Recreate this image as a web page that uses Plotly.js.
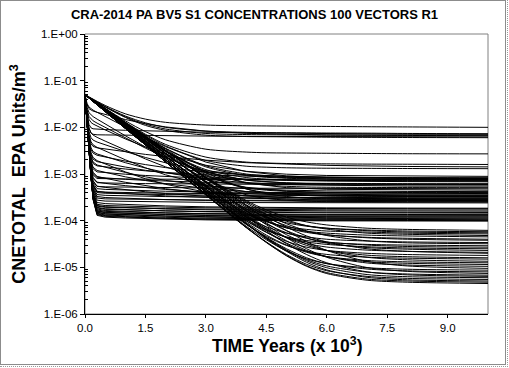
<!DOCTYPE html>
<html><head><meta charset="utf-8">
<script src="https://cdn.plot.ly/plotly-3.0.1.min.js"></script>
<style>html,body{margin:0;padding:0;background:#fff;overflow:hidden}</style>
</head><body>
<div id="chart" style="position:absolute;left:0;top:0;width:509px;height:368px"></div>
<div style="position:absolute;left:0;top:0;width:504px;height:363px;border:1px solid #8c8c8c;pointer-events:none"></div>
<div style="position:absolute;left:0;top:0;width:507px;height:366px;border-right:1px dotted #9a9a9a;border-bottom:1px dotted #9a9a9a;pointer-events:none"></div>
<script>
// time in thousands of years
const yearsFast = [0, 0.05, 0.1, 0.15, 0.2, 0.3, 0.5, 1, 1.5, 2, 3, 4, 5, 6, 8, 10];
const yearsSlow = [0, 0.5, 1, 1.5, 2, 3, 4, 4.5, 5, 5.5, 6, 7, 8, 10];

// vectors with a fast initial drop to a plateau (sampled at yearsFast)
const fast01 = [5.0e-2, 3.25e-2, 2.72e-2, 2.49e-2, 2.34e-2, 2.1e-2, 1.7e-2, 1.01e-2, 6.1e-3, 3.85e-3, 1.8e-3, 1.13e-3, 9.1e-4, 8.4e-4, 8.04e-4, 8.0e-4];
const fast02 = [5.0e-2, 3.03e-2, 2.5e-2, 2.32e-2, 2.23e-2, 2.1e-2, 1.88e-2, 1.47e-2, 1.2e-2, 1.02e-2, 8.3e-3, 7.45e-3, 7.1e-3, 6.9e-3, 6.82e-3, 6.8e-3];
const fast03 = [5.0e-2, 2.71e-2, 2.06e-2, 1.83e-2, 1.7e-2, 1.5e-2, 1.18e-2, 6.6e-3, 3.8e-3, 2.3e-3, 1.09e-3, 7.4e-4, 6.4e-4, 6.1e-4, 6.0e-4, 6.0e-4];
const fast04 = [5.0e-2, 2.4e-2, 1.71e-2, 1.49e-2, 1.38e-2, 1.23e-2, 9.95e-3, 5.9e-3, 3.58e-3, 2.24e-3, 1.04e-3, 6.4e-4, 5.1e-4, 4.7e-4, 4.52e-4, 4.5e-4];
const fast05 = [5.0e-2, 2.2e-2, 1.48e-2, 1.27e-2, 1.18e-2, 1.07e-2, 8.8e-3, 5.65e-3, 3.78e-3, 2.64e-3, 1.54e-3, 1.14e-3, 9.9e-4, 9.3e-4, 9.0e-4, 8.9e-4];
const fast06 = [5.0e-2, 1.9e-2, 1.15e-2, 9.75e-3, 9.3e-3, 9.1e-3, 8.95e-3, 8.65e-3, 8.4e-3, 8.2e-3, 7.85e-3, 7.6e-3, 7.45e-3, 7.3e-3, 7.15e-3, 7.1e-3];
const fast07 = [5.0e-2, 1.78e-2, 9.76e-3, 7.6e-3, 6.84e-3, 6.1e-3, 5.07e-3, 3.22e-3, 2.1e-3, 1.42e-3, 7.6e-4, 5.2e-4, 4.3e-4, 4.0e-4, 3.83e-4, 3.8e-4];
const fast08 = [5.0e-2, 1.73e-2, 9.4e-3, 7.55e-3, 7.1e-3, 6.92e-3, 6.88e-3, 6.77e-3, 6.69e-3, 6.61e-3, 6.49e-3, 6.41e-3, 6.35e-3, 6.31e-3, 6.26e-3, 6.23e-3];
const fast09 = [5.0e-2, 1.63e-2, 8.1e-3, 6.0e-3, 5.34e-3, 4.84e-3, 4.21e-3, 3.03e-3, 2.26e-3, 1.74e-3, 1.18e-3, 9.4e-4, 8.3e-4, 7.85e-4, 7.57e-4, 7.5e-4];
const fast10 = [5.0e-2, 1.55e-2, 7.04e-3, 4.89e-3, 4.22e-3, 3.72e-3, 3.11e-3, 2.02e-3, 1.36e-3, 9.6e-4, 5.7e-4, 4.2e-4, 3.7e-4, 3.5e-4, 3.4e-4, 3.4e-4];
const fast11 = [5.0e-2, 1.5e-2, 6.5e-3, 4.44e-3, 3.9e-3, 3.64e-3, 3.43e-3, 2.98e-3, 2.63e-3, 2.36e-3, 1.98e-3, 1.75e-3, 1.61e-3, 1.53e-3, 1.45e-3, 1.42e-3];
const fast12 = [5.0e-2, 1.44e-2, 5.74e-3, 3.62e-3, 3.03e-3, 2.69e-3, 2.36e-3, 1.75e-3, 1.34e-3, 1.07e-3, 7.75e-4, 6.5e-4, 5.9e-4, 5.7e-4, 5.5e-4, 5.5e-4];
const fast13 = [5.0e-2, 1.41e-2, 5.45e-3, 3.35e-3, 2.8e-3, 2.52e-3, 2.31e-3, 1.89e-3, 1.59e-3, 1.37e-3, 1.1e-3, 9.65e-4, 8.95e-4, 8.6e-4, 8.3e-4, 8.2e-4];
const fast14 = [5.0e-2, 1.38e-2, 5.0e-3, 2.85e-3, 2.26e-3, 1.93e-3, 1.64e-3, 1.11e-3, 7.9e-4, 6.0e-4, 4.1e-4, 3.4e-4, 3.15e-4, 3.05e-4, 3.0e-4, 3.0e-4];
const fast15 = [5.0e-2, 1.36e-2, 4.74e-3, 2.63e-3, 2.08e-3, 1.84e-3, 1.7e-3, 1.41e-3, 1.2e-3, 1.06e-3, 8.7e-4, 7.8e-4, 7.3e-4, 7.06e-4, 6.87e-4, 6.8e-4];
const fast16 = [5.0e-2, 1.34e-2, 4.48e-3, 2.35e-3, 1.81e-3, 1.56e-3, 1.39e-3, 1.08e-3, 8.7e-4, 7.3e-4, 5.6e-4, 4.86e-4, 4.5e-4, 4.34e-4, 4.23e-4, 4.2e-4];
const fast17 = [5.0e-2, 1.32e-2, 4.32e-3, 2.21e-3, 1.68e-3, 1.49e-3, 1.42e-3, 1.28e-3, 1.17e-3, 1.08e-3, 9.6e-4, 8.9e-4, 8.5e-4, 8.2e-4, 7.95e-4, 7.85e-4];
const fast18 = [5.0e-2, 1.3e-2, 4.07e-3, 1.94e-3, 1.4e-3, 1.19e-3, 1.08e-3, 8.7e-4, 7.25e-4, 6.2e-4, 4.9e-4, 4.2e-4, 3.86e-4, 3.69e-4, 3.55e-4, 3.5e-4];
const fast19 = [5.0e-2, 1.29e-2, 3.94e-3, 1.82e-3, 1.29e-3, 1.11e-3, 1.07e-3, 9.9e-4, 9.3e-4, 8.8e-4, 8.1e-4, 7.65e-4, 7.4e-4, 7.24e-4, 7.09e-4, 7.03e-4];
const fast20 = [5.0e-2, 1.28e-2, 3.76e-3, 1.63e-3, 1.09e-3, 8.9e-4, 8.1e-4, 6.65e-4, 5.6e-4, 4.83e-4, 3.89e-4, 3.41e-4, 3.16e-4, 3.03e-4, 2.94e-4, 2.9e-4];
const fast21 = [5.0e-2, 1.27e-2, 3.67e-3, 1.54e-3, 1.02e-3, 8.5e-4, 8.18e-4, 7.7e-4, 7.32e-4, 7.03e-4, 6.62e-4, 6.38e-4, 6.23e-4, 6.14e-4, 6.05e-4, 6.02e-4];
const fast22 = [5.0e-2, 1.26e-2, 3.6e-3, 1.48e-3, 9.6e-4, 8.0e-4, 7.91e-4, 7.83e-4, 7.76e-4, 7.71e-4, 7.62e-4, 7.56e-4, 7.51e-4, 7.48e-4, 7.44e-4, 7.42e-4];
const fast23 = [5.0e-2, 1.25e-2, 3.5e-3, 1.37e-3, 8.4e-4, 6.7e-4, 6.3e-4, 5.63e-4, 5.09e-4, 4.67e-4, 4.09e-4, 3.74e-4, 3.53e-4, 3.4e-4, 3.27e-4, 3.23e-4];
const fast24 = [5.0e-2, 1.25e-2, 3.45e-3, 1.33e-3, 8.1e-4, 6.5e-4, 6.39e-4, 6.3e-4, 6.22e-4, 6.16e-4, 6.06e-4, 5.98e-4, 5.93e-4, 5.89e-4, 5.85e-4, 5.82e-4];
const fast25 = [5.0e-2, 1.24e-2, 3.4e-3, 1.25e-3, 7.2e-4, 5.5e-4, 5.17e-4, 4.6e-4, 4.16e-4, 3.81e-4, 3.34e-4, 3.05e-4, 2.87e-4, 2.76e-4, 2.66e-4, 2.62e-4];
const fast26 = [5.0e-2, 1.24e-2, 3.34e-3, 1.22e-3, 7.0e-4, 5.4e-4, 5.31e-4, 5.23e-4, 5.16e-4, 5.11e-4, 5.02e-4, 4.96e-4, 4.91e-4, 4.88e-4, 4.84e-4, 4.82e-4];
const fast27 = [5.0e-2, 1.23e-2, 3.3e-3, 1.17e-3, 6.45e-4, 4.85e-4, 4.68e-4, 4.51e-4, 4.37e-4, 4.27e-4, 4.12e-4, 4.04e-4, 3.98e-4, 3.95e-4, 3.92e-4, 3.91e-4];
const fast28 = [5.0e-2, 1.23e-2, 3.25e-3, 1.11e-3, 5.9e-4, 4.27e-4, 4.05e-4, 3.77e-4, 3.56e-4, 3.39e-4, 3.16e-4, 3.02e-4, 2.93e-4, 2.88e-4, 2.83e-4, 2.81e-4];
const fast29 = [5.0e-2, 1.23e-2, 3.2e-3, 1.1e-3, 5.8e-4, 4.2e-4, 4.09e-4, 4.0e-4, 3.94e-4, 3.88e-4, 3.81e-4, 3.77e-4, 3.74e-4, 3.72e-4, 3.71e-4, 3.7e-4];
const fast30 = [5.0e-2, 1.23e-2, 3.2e-3, 1.08e-3, 5.6e-4, 4.0e-4, 3.87e-4, 3.76e-4, 3.68e-4, 3.62e-4, 3.53e-4, 3.48e-4, 3.45e-4, 3.43e-4, 3.41e-4, 3.4e-4];
const fast31 = [5.0e-2, 1.23e-2, 3.15e-3, 1.04e-3, 5.2e-4, 3.62e-4, 3.49e-4, 3.4e-4, 3.34e-4, 3.28e-4, 3.21e-4, 3.17e-4, 3.14e-4, 3.12e-4, 3.11e-4, 3.1e-4];
const fast32 = [5.0e-2, 1.22e-2, 3.12e-3, 1.0e-3, 4.9e-4, 3.3e-4, 3.13e-4, 3.0e-4, 2.9e-4, 2.83e-4, 2.72e-4, 2.65e-4, 2.61e-4, 2.59e-4, 2.56e-4, 2.55e-4];
const fast33 = [5.0e-2, 1.22e-2, 3.1e-3, 9.8e-4, 4.6e-4, 3.05e-4, 2.93e-4, 2.88e-4, 2.84e-4, 2.81e-4, 2.77e-4, 2.74e-4, 2.72e-4, 2.71e-4, 2.7e-4, 2.7e-4];
const fast34 = [5.0e-2, 1.22e-2, 3.1e-3, 9.5e-4, 4.3e-4, 2.75e-4, 2.63e-4, 2.58e-4, 2.54e-4, 2.51e-4, 2.47e-4, 2.44e-4, 2.42e-4, 2.41e-4, 2.4e-4, 2.4e-4];
const fast35 = [5.0e-2, 1.22e-2, 3.05e-3, 9.2e-4, 4.0e-4, 2.45e-4, 2.32e-4, 2.21e-4, 2.13e-4, 2.07e-4, 1.98e-4, 1.93e-4, 1.9e-4, 1.88e-4, 1.86e-4, 1.85e-4];
const fast36 = [5.0e-2, 1.22e-2, 3.03e-3, 9.0e-4, 3.8e-4, 2.24e-4, 2.11e-4, 2.04e-4, 1.99e-4, 1.95e-4, 1.89e-4, 1.85e-4, 1.83e-4, 1.82e-4, 1.81e-4, 1.8e-4];
const fast37 = [5.0e-2, 1.22e-2, 3.02e-3, 8.9e-4, 3.7e-4, 2.12e-4, 1.99e-4, 1.9e-4, 1.84e-4, 1.78e-4, 1.71e-4, 1.67e-4, 1.64e-4, 1.62e-4, 1.61e-4, 1.6e-4];
const fast38 = [5.0e-2, 1.22e-2, 3.0e-3, 8.8e-4, 3.6e-4, 2.05e-4, 1.93e-4, 1.88e-4, 1.84e-4, 1.81e-4, 1.77e-4, 1.74e-4, 1.72e-4, 1.71e-4, 1.7e-4, 1.7e-4];
const fast39 = [5.0e-2, 1.22e-2, 3.0e-3, 8.7e-4, 3.5e-4, 1.93e-4, 1.8e-4, 1.72e-4, 1.66e-4, 1.62e-4, 1.55e-4, 1.51e-4, 1.49e-4, 1.47e-4, 1.46e-4, 1.45e-4];
const fast40 = [5.0e-2, 1.22e-2, 3.0e-3, 8.6e-4, 3.4e-4, 1.87e-4, 1.75e-4, 1.69e-4, 1.65e-4, 1.62e-4, 1.57e-4, 1.54e-4, 1.53e-4, 1.52e-4, 1.51e-4, 1.5e-4];
const fast41 = [5.0e-2, 1.22e-2, 2.98e-3, 8.6e-4, 3.35e-4, 1.78e-4, 1.65e-4, 1.57e-4, 1.51e-4, 1.47e-4, 1.4e-4, 1.36e-4, 1.34e-4, 1.32e-4, 1.31e-4, 1.3e-4];
const fast42 = [5.0e-2, 1.22e-2, 2.98e-3, 8.5e-4, 3.25e-4, 1.7e-4, 1.58e-4, 1.53e-4, 1.49e-4, 1.46e-4, 1.42e-4, 1.39e-4, 1.37e-4, 1.36e-4, 1.355e-4, 1.35e-4];
const fast43 = [5.0e-2, 1.22e-2, 2.97e-3, 8.4e-4, 3.2e-4, 1.63e-4, 1.51e-4, 1.44e-4, 1.39e-4, 1.35e-4, 1.29e-4, 1.25e-4, 1.23e-4, 1.22e-4, 1.21e-4, 1.2e-4];
const fast44 = [5.0e-2, 1.22e-2, 2.97e-3, 8.4e-4, 3.15e-4, 1.6e-4, 1.48e-4, 1.43e-4, 1.39e-4, 1.36e-4, 1.32e-4, 1.29e-4, 1.27e-4, 1.26e-4, 1.255e-4, 1.25e-4];
const fast45 = [5.0e-2, 1.22e-2, 2.96e-3, 8.3e-4, 3.1e-4, 1.53e-4, 1.41e-4, 1.34e-4, 1.29e-4, 1.25e-4, 1.19e-4, 1.15e-4, 1.13e-4, 1.12e-4, 1.11e-4, 1.1e-4];
const fast46 = [5.0e-2, 1.22e-2, 2.96e-3, 8.3e-4, 3.05e-4, 1.5e-4, 1.38e-4, 1.33e-4, 1.29e-4, 1.26e-4, 1.22e-4, 1.19e-4, 1.17e-4, 1.16e-4, 1.155e-4, 1.15e-4];
const fast47 = [5.0e-2, 1.22e-2, 2.95e-3, 8.2e-4, 3.0e-4, 1.44e-4, 1.32e-4, 1.26e-4, 1.22e-4, 1.18e-4, 1.13e-4, 1.1e-4, 1.08e-4, 1.07e-4, 1.06e-4, 1.05e-4];
const fast48 = [5.0e-2, 1.22e-2, 2.95e-3, 8.2e-4, 2.95e-4, 1.4e-4, 1.28e-4, 1.22e-4, 1.17e-4, 1.13e-4, 1.08e-4, 1.05e-4, 1.03e-4, 1.02e-4, 1.01e-4, 1.0e-4];
const fast49 = [5.0e-2, 1.22e-2, 2.95e-3, 8.1e-4, 2.9e-4, 1.35e-4, 1.24e-4, 1.19e-4, 1.15e-4, 1.12e-4, 1.08e-4, 1.06e-4, 1.04e-4, 1.03e-4, 1.025e-4, 1.02e-4];
const fast50 = [5.0e-2, 1.22e-2, 2.94e-3, 8.1e-4, 2.85e-4, 1.3e-4, 1.19e-4, 1.14e-4, 1.11e-4, 1.08e-4, 1.04e-4, 1.02e-4, 1.0e-4, 9.9e-5, 9.85e-5, 9.8e-5];

// vectors with slow decay to a high floor (sampled at yearsSlow)
const high01 = [5.0e-2, 2.95e-2, 1.95e-2, 1.5e-2, 1.28e-2, 1.12e-2, 1.08e-2, 1.07e-2, 1.06e-2, 1.05e-2, 1.045e-2, 1.03e-2, 1.02e-2, 1.0e-2];
const high02 = [5.0e-2, 2.8e-2, 1.75e-2, 1.25e-2, 1.0e-2, 8.3e-3, 7.8e-3, 7.7e-3, 7.65e-3, 7.6e-3, 7.55e-3, 7.5e-3, 7.4e-3, 7.3e-3];
const high03 = [5.0e-2, 2.76e-2, 1.68e-2, 1.17e-2, 9.2e-3, 7.4e-3, 7.0e-3, 6.95e-3, 6.9e-3, 6.85e-3, 6.8e-3, 6.75e-3, 6.7e-3, 6.6e-3];
const high04 = [5.0e-2, 2.73e-2, 1.63e-2, 1.1e-2, 8.6e-3, 6.8e-3, 6.35e-3, 6.3e-3, 6.25e-3, 6.2e-3, 6.15e-3, 6.1e-3, 6.05e-3, 6.0e-3];
const high05 = [5.0e-2, 2.56e-2, 1.38e-2, 8.1e-3, 5.4e-3, 3.4e-3, 2.95e-3, 2.85e-3, 2.82e-3, 2.8e-3, 2.78e-3, 2.75e-3, 2.72e-3, 2.7e-3];
const high06 = [5.0e-2, 2.5e-2, 1.29e-2, 7.1e-3, 4.3e-3, 2.3e-3, 1.8e-3, 1.72e-3, 1.68e-3, 1.66e-3, 1.65e-3, 1.63e-3, 1.62e-3, 1.6e-3];
const high07 = [5.0e-2, 2.48e-2, 1.26e-2, 6.8e-3, 4.0e-3, 1.95e-3, 1.47e-3, 1.4e-3, 1.36e-3, 1.34e-3, 1.33e-3, 1.32e-3, 1.31e-3, 1.3e-3];
const high08 = [5.0e-2, 2.46e-2, 1.23e-2, 6.4e-3, 3.55e-3, 1.5e-3, 1.0e-3, 9.2e-4, 8.8e-4, 8.6e-4, 8.5e-4, 8.4e-4, 8.35e-4, 8.3e-4];
const high09 = [5.0e-2, 2.46e-2, 1.23e-2, 6.3e-3, 3.5e-3, 1.42e-3, 9.3e-4, 8.5e-4, 8.1e-4, 7.9e-4, 7.8e-4, 7.7e-4, 7.65e-4, 7.6e-4];
const high10 = [5.0e-2, 2.38e-2, 1.15e-2, 5.8e-3, 3.1e-3, 1.24e-3, 8.4e-4, 7.8e-4, 7.5e-4, 7.35e-4, 7.3e-4, 7.25e-4, 7.2e-4, 7.2e-4];
const high11 = [5.0e-2, 2.37e-2, 1.14e-2, 5.7e-3, 3.0e-3, 1.14e-3, 7.4e-4, 6.8e-4, 6.5e-4, 6.35e-4, 6.3e-4, 6.25e-4, 6.2e-4, 6.2e-4];
const high12 = [5.0e-2, 2.43e-2, 1.2e-2, 6.1e-3, 3.2e-3, 1.15e-3, 6.6e-4, 5.8e-4, 5.45e-4, 5.27e-4, 5.2e-4, 5.15e-4, 5.12e-4, 5.1e-4];
const high13 = [5.0e-2, 2.36e-2, 1.13e-2, 5.5e-3, 2.8e-3, 9.2e-4, 5.1e-4, 4.5e-4, 4.25e-4, 4.12e-4, 4.06e-4, 4.02e-4, 4.0e-4, 4.0e-4];
const high14 = [5.0e-2, 2.42e-2, 1.19e-2, 6.0e-3, 3.05e-3, 9.7e-4, 4.8e-4, 4.0e-4, 3.65e-4, 3.47e-4, 3.38e-4, 3.32e-4, 3.31e-4, 3.3e-4];
const high15 = [5.0e-2, 2.52e-2, 1.28e-2, 6.5e-3, 3.4e-3, 1.07e-3, 4.8e-4, 3.8e-4, 3.3e-4, 3.05e-4, 2.93e-4, 2.83e-4, 2.81e-4, 2.8e-4];
const high16 = [5.0e-2, 2.36e-2, 1.12e-2, 5.3e-3, 2.6e-3, 7.7e-4, 3.6e-4, 3.0e-4, 2.75e-4, 2.62e-4, 2.55e-4, 2.51e-4, 2.5e-4, 2.5e-4];

// vectors following the long diagonal decline (sampled at yearsSlow)
const diag01 = [5.0e-2, 2.51e-2, 1.26e-2, 6.3e-3, 3.16e-3, 8.6e-4, 2.7e-4, 1.7e-4, 1.19e-4, 9.4e-5, 8.1e-5, 6.9e-5, 6.5e-5, 6.2e-5];
const diag02 = [5.0e-2, 2.34e-2, 1.1e-2, 5.1e-3, 2.4e-3, 5.9e-4, 1.8e-4, 1.2e-4, 9.0e-5, 7.6e-5, 6.9e-5, 6.3e-5, 6.0e-5, 5.8e-5];
const diag03 = [5.0e-2, 2.42e-2, 1.17e-2, 5.7e-3, 2.75e-3, 7.0e-4, 2.1e-4, 1.36e-4, 9.7e-5, 7.8e-5, 6.9e-5, 6.1e-5, 5.7e-5, 5.5e-5];
const diag04 = [5.0e-2, 2.24e-2, 1.0e-2, 4.5e-3, 2.0e-3, 4.6e-4, 1.39e-4, 9.5e-5, 7.4e-5, 6.5e-5, 6.0e-5, 5.7e-5, 5.4e-5, 5.2e-5];
const diag05 = [5.0e-2, 2.51e-2, 1.26e-2, 6.3e-3, 3.16e-3, 8.5e-4, 2.55e-4, 1.55e-4, 1.04e-4, 7.8e-5, 6.6e-5, 5.4e-5, 5.1e-5, 4.8e-5];
const diag06 = [5.0e-2, 2.29e-2, 1.05e-2, 4.8e-3, 2.19e-3, 5.1e-4, 1.47e-4, 9.6e-5, 7.0e-5, 5.9e-5, 5.4e-5, 4.9e-5, 4.7e-5, 4.5e-5];
const diag07 = [5.0e-2, 2.34e-2, 1.1e-2, 5.1e-3, 2.4e-3, 5.7e-4, 1.6e-4, 1.0e-4, 7.0e-5, 5.6e-5, 4.95e-5, 4.4e-5, 4.2e-5, 4.0e-5];
const diag08 = [5.0e-2, 2.42e-2, 1.17e-2, 5.7e-3, 2.75e-3, 6.8e-4, 1.95e-4, 1.17e-4, 7.8e-5, 5.9e-5, 5.0e-5, 4.3e-5, 4.0e-5, 3.8e-5];
const diag09 = [5.0e-2, 2.24e-2, 1.0e-2, 4.5e-3, 2.0e-3, 4.4e-4, 1.18e-4, 7.4e-5, 5.4e-5, 4.5e-5, 4.0e-5, 3.66e-5, 3.5e-5, 3.4e-5];
const diag10 = [5.0e-2, 2.51e-2, 1.26e-2, 6.3e-3, 3.16e-3, 8.3e-4, 2.4e-4, 1.37e-4, 8.6e-5, 6.05e-5, 4.8e-5, 3.7e-5, 3.35e-5, 3.2e-5];
const diag11 = [5.0e-2, 2.18e-2, 9.5e-3, 4.2e-3, 1.82e-3, 3.8e-4, 9.9e-5, 6.2e-5, 4.5e-5, 3.75e-5, 3.4e-5, 3.1e-5, 3.0e-5, 2.9e-5];
const diag12 = [5.0e-2, 2.34e-2, 1.1e-2, 5.1e-3, 2.4e-3, 5.5e-4, 1.46e-4, 8.5e-5, 5.5e-5, 4.2e-5, 3.5e-5, 3.0e-5, 2.8e-5, 2.7e-5];
const diag13 = [5.0e-2, 2.24e-2, 1.0e-2, 4.5e-3, 2.0e-3, 4.3e-4, 1.08e-4, 6.4e-5, 4.4e-5, 3.5e-5, 3.1e-5, 2.76e-5, 2.6e-5, 2.5e-5];
const diag14 = [5.0e-2, 2.42e-2, 1.17e-2, 5.7e-3, 2.75e-3, 6.7e-4, 1.78e-4, 1.0e-4, 6.1e-5, 4.25e-5, 3.3e-5, 2.65e-5, 2.45e-5, 2.3e-5];
const diag15 = [5.0e-2, 2.29e-2, 1.05e-2, 4.8e-3, 2.19e-3, 4.8e-4, 1.19e-4, 6.75e-5, 4.35e-5, 3.24e-5, 2.72e-5, 2.34e-5, 2.2e-5, 2.1e-5];
const diag16 = [5.0e-2, 2.51e-2, 1.26e-2, 6.3e-3, 3.16e-3, 8.1e-4, 2.2e-4, 1.23e-4, 7.3e-5, 4.7e-5, 3.5e-5, 2.5e-5, 2.2e-5, 2.0e-5];
const diag17 = [5.0e-2, 2.24e-2, 1.0e-2, 4.5e-3, 2.0e-3, 4.2e-4, 1.0e-4, 5.6e-5, 3.6e-5, 2.7e-5, 2.3e-5, 2.0e-5, 1.88e-5, 1.8e-5];
const diag18 = [5.0e-2, 2.34e-2, 1.1e-2, 5.1e-3, 2.4e-3, 5.4e-4, 1.33e-4, 7.2e-5, 4.3e-5, 2.95e-5, 2.3e-5, 1.82e-5, 1.69e-5, 1.6e-5];
const diag19 = [5.0e-2, 2.18e-2, 9.5e-3, 4.2e-3, 1.82e-3, 3.7e-4, 8.3e-5, 4.6e-5, 2.94e-5, 2.21e-5, 1.89e-5, 1.65e-5, 1.57e-5, 1.5e-5];
const diag20 = [5.0e-2, 2.42e-2, 1.17e-2, 5.7e-3, 2.75e-3, 6.6e-4, 1.67e-4, 8.9e-5, 5.0e-5, 3.2e-5, 2.3e-5, 1.64e-5, 1.45e-5, 1.35e-5];
const diag21 = [5.0e-2, 2.24e-2, 1.0e-2, 4.5e-3, 2.0e-3, 4.1e-4, 9.3e-5, 4.9e-5, 3.0e-5, 2.1e-5, 1.7e-5, 1.4e-5, 1.31e-5, 1.25e-5];
const diag22 = [5.0e-2, 2.29e-2, 1.05e-2, 4.8e-3, 2.19e-3, 4.7e-4, 1.08e-4, 5.7e-5, 3.3e-5, 2.19e-5, 1.69e-5, 1.32e-5, 1.22e-5, 1.15e-5];
const diag23 = [5.0e-2, 2.34e-2, 1.1e-2, 5.1e-3, 2.4e-3, 5.3e-4, 1.27e-4, 6.6e-5, 3.7e-5, 2.3e-5, 1.7e-5, 1.24e-5, 1.12e-5, 1.05e-5];
const diag24 = [5.0e-2, 2.51e-2, 1.26e-2, 6.3e-3, 3.16e-3, 8.0e-4, 2.1e-4, 1.11e-4, 6.1e-5, 3.55e-5, 2.3e-5, 1.34e-5, 1.07e-5, 9.5e-6];
const diag25 = [5.0e-2, 2.18e-2, 9.5e-3, 4.2e-3, 1.82e-3, 3.6e-4, 7.6e-5, 3.9e-5, 2.23e-5, 1.52e-5, 1.2e-5, 9.8e-6, 9.1e-6, 8.7e-6];
const diag26 = [5.0e-2, 2.24e-2, 1.0e-2, 4.5e-3, 2.0e-3, 4.1e-4, 8.8e-5, 4.4e-5, 2.5e-5, 1.6e-5, 1.2e-5, 9.2e-6, 8.4e-6, 8.0e-6];
const diag27 = [5.0e-2, 2.42e-2, 1.17e-2, 5.7e-3, 2.75e-3, 6.5e-4, 1.6e-4, 8.2e-5, 4.3e-5, 2.5e-5, 1.64e-5, 9.9e-6, 8.2e-6, 7.4e-6];
const diag28 = [5.0e-2, 2.24e-2, 1.0e-2, 4.5e-3, 2.0e-3, 4.1e-4, 8.7e-5, 4.3e-5, 2.36e-5, 1.46e-5, 1.07e-5, 7.9e-6, 7.2e-6, 6.8e-6];
const diag29 = [5.0e-2, 2.34e-2, 1.1e-2, 5.1e-3, 2.4e-3, 5.3e-4, 1.22e-4, 6.1e-5, 3.2e-5, 1.88e-5, 1.25e-5, 8.0e-6, 6.9e-6, 6.4e-6];
const diag30 = [5.0e-2, 2.24e-2, 1.0e-2, 4.5e-3, 2.0e-3, 4.1e-4, 8.6e-5, 4.2e-5, 2.3e-5, 1.38e-5, 9.8e-6, 7.0e-6, 6.3e-6, 6.0e-6];
const diag31 = [5.0e-2, 2.18e-2, 9.5e-3, 4.2e-3, 1.82e-3, 3.6e-4, 7.2e-5, 3.5e-5, 1.88e-5, 1.16e-5, 8.45e-6, 6.4e-6, 5.8e-6, 5.5e-6];
const diag32 = [5.0e-2, 2.24e-2, 1.0e-2, 4.5e-3, 2.0e-3, 4.1e-4, 8.5e-5, 4.1e-5, 2.2e-5, 1.28e-5, 8.8e-6, 6.1e-6, 5.4e-6, 5.1e-6];
const diag33 = [5.0e-2, 2.18e-2, 9.5e-3, 4.2e-3, 1.82e-3, 3.55e-4, 7.2e-5, 3.45e-5, 1.8e-5, 1.08e-5, 7.7e-6, 5.6e-6, 5.1e-6, 4.8e-6];
const diag34 = [5.0e-2, 2.18e-2, 9.5e-3, 4.2e-3, 1.82e-3, 3.55e-4, 7.1e-5, 3.4e-5, 1.76e-5, 1.05e-5, 7.35e-6, 5.3e-6, 4.8e-6, 4.5e-6];

const fastVectors = [fast01, fast02, fast03, fast04, fast05, fast06, fast07, fast08, fast09, fast10,
  fast11, fast12, fast13, fast14, fast15, fast16, fast17, fast18, fast19, fast20,
  fast21, fast22, fast23, fast24, fast25, fast26, fast27, fast28, fast29, fast30,
  fast31, fast32, fast33, fast34, fast35, fast36, fast37, fast38, fast39, fast40,
  fast41, fast42, fast43, fast44, fast45, fast46, fast47, fast48, fast49, fast50];
const slowVectors = [high01, high02, high03, high04, high05, high06, high07, high08,
  high09, high10, high11, high12, high13, high14, high15, high16,
  diag01, diag02, diag03, diag04, diag05, diag06, diag07, diag08, diag09, diag10,
  diag11, diag12, diag13, diag14, diag15, diag16, diag17, diag18, diag19, diag20,
  diag21, diag22, diag23, diag24, diag25, diag26, diag27, diag28, diag29, diag30,
  diag31, diag32, diag33, diag34];

const yTickVals = [1, 1e-1, 1e-2, 1e-3, 1e-4, 1e-5, 1e-6];
const yTickText = ['1.E+00', '1.E-01', '1.E-02', '1.E-03', '1.E-04', '1.E-05', '1.E-06'];
const xTickVals = [0, 1.5, 3, 4.5, 6, 7.5, 9];
const xTickText = ['0.0', '1.5', '3.0', '4.5', '6.0', '7.5', '9.0'];

const lineStyle = {color: '#000000', width: 1};
const traces = [];
fastVectors.forEach(v => traces.push({x: yearsFast, y: v, type: 'scatter', mode: 'lines',
  line: Object.assign({shape: 'linear'}, lineStyle), hoverinfo: 'skip'}));
slowVectors.forEach(v => traces.push({x: yearsSlow, y: v, type: 'scatter', mode: 'lines',
  line: Object.assign({shape: 'spline', smoothing: 0.8}, lineStyle), hoverinfo: 'skip'}));

const minorVals = [];
for (let e = -6; e < 0; e++) for (let k = 2; k <= 9; k++) minorVals.push(k * Math.pow(10, e));

const fontFamily = 'Liberation Sans, Arial, sans-serif';
const tickFont = {family: fontFamily, size: 11.5, color: '#000'};

const layout = {
  width: 509, height: 368,
  margin: {l: 85, r: 21, t: 34, b: 54, pad: 0},
  paper_bgcolor: '#ffffff', plot_bgcolor: '#ffffff',
  showlegend: false,
  title: {text: '<b>CRA-2014 PA BV5 S1 CONCENTRATIONS 100 VECTORS R1</b>',
    font: {family: fontFamily, size: 13, color: '#000'},
    xref: 'container', x: 0.5, xanchor: 'center', yref: 'container', y: 1 - 14/368, yanchor: 'middle'},
  xaxis: {
    range: [0, 10], showgrid: false, zeroline: false,
    showline: true, linecolor: '#000', linewidth: 1,
    tickmode: 'array', tickvals: xTickVals, ticktext: xTickText,
    ticks: 'outside', ticklen: 3, tickcolor: '#000', tickfont: tickFont
  },
  yaxis: {
    type: 'log', range: [-6, 0], showgrid: false, zeroline: false,
    showline: true, linecolor: '#000', linewidth: 1,
    tickmode: 'array', tickvals: yTickVals, ticktext: yTickText,
    ticks: 'outside', ticklen: 4, tickcolor: '#000', tickfont: tickFont,
    minor: {tickmode: 'array', tickvals: minorVals, ticks: 'inside', ticklen: 3, tickcolor: '#000', showgrid: false},
    title: {text: '<b>CNETOTAL\u00a0\u00a0EPA Units/m<sup>3</sup></b>',
      font: {family: fontFamily, size: 18, color: '#000'}, standoff: 10}
  },
  annotations: [{text: '<b>TIME Years (x 10<sup>3</sup>)</b>', showarrow: false,
    xref: 'paper', x: 0.5, xanchor: 'center', yref: 'paper', y: 0, yanchor: 'top', yshift: -18,
    font: {family: fontFamily, size: 17.5, color: '#000'}}],
  shapes: [{type: 'rect', xref: 'paper', yref: 'paper', x0: 0, y0: 0, x1: 1, y1: 1,
    line: {color: '#808080', width: 1}, layer: 'below'}]
};

Plotly.newPlot('chart', traces, layout, {staticPlot: true, displayModeBar: false});
</script>
</body></html>
